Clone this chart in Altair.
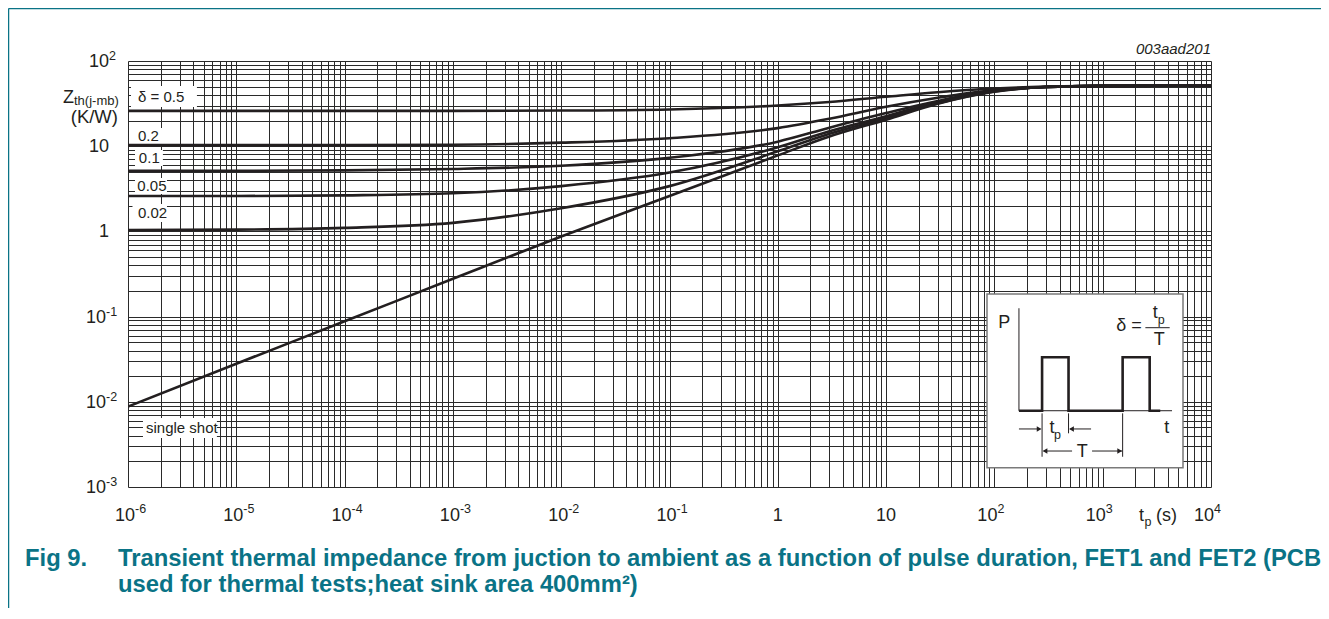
import altair as alt
import pandas as pd

# ---------------- data ----------------
t_points = [1e-6, 1e-5, 1e-4, 1e-3, 1e-2, 1e-1, 1, 3, 10, 30, 100, 300, 1000, 1e4]
z_d050 = [26, 26, 26, 26, 26.2, 27, 30, 33, 38, 43, 47.5, 50, 51, 51.5]
z_d020 = [10.3, 10.3, 10.3, 10.4, 11, 12.4, 16.3, 21, 29, 37, 45.5, 49.5, 51, 51.5]
z_d010 = [5.15, 5.15, 5.2, 5.4, 5.9, 7.3, 11.3, 16.5, 24.5, 34, 45, 49.5, 51, 51.5]
z_d005 = [2.6, 2.6, 2.65, 2.8, 3.4, 4.9, 9.7, 15, 22.5, 33, 44.5, 49.5, 51, 51.5]
z_d002 = [1.04, 1.05, 1.1, 1.26, 1.87, 3.4, 8.7, 14, 21.5, 32, 44, 49.5, 51, 51.5]
z_single = [0.0088, 0.028, 0.088, 0.278, 0.87, 2.6, 7.8, 13, 20.5, 31.5, 43.5, 49.5, 51, 51.5]

series_names = ["0.5", "0.2", "0.1", "0.05", "0.02", "single shot"]
series_values = [z_d050, z_d020, z_d010, z_d005, z_d002, z_single]

# curve labels (data coordinates) and their white boxes
label_text = ["δ = 0.5", "0.2", "0.1", "0.05", "0.02", "single shot"]
label_t = [1.237e-6, 1.237e-6, 1.26e-6, 1.22e-6, 1.237e-6, 1.466e-6]
label_z = [37.8, 13.2, 7.27, 3.41, 1.64, 0.00493]
box_t0 = [1.066e-6, 1.10e-6, 1.16e-6, 1.16e-6, 1.10e-6, 1.375e-6]
box_t1 = [4.33e-6, 2.10e-6, 2.10e-6, 2.29e-6, 2.29e-6, 6.62e-6]
box_z0 = [28.8, 10.6, 5.86, 2.75, 1.29, 0.00376]
box_z1 = [50.9, 16.35, 9.03, 4.24, 2.10, 0.00646]

# tick labels: base and exponent
x_tick_values = [1e-6, 1e-5, 1e-4, 1e-3, 1e-2, 1e-1, 1.0, 10.0, 1e2, 1e3, 1e4]
x_tick_base = ["10", "10", "10", "10", "10", "10", "1", "10", "10", "10", "10"]
x_tick_exp = ["-6", "-5", "-4", "-3", "-2", "-1", "", "", "2", "3", "4"]
y_tick_values = [1e-3, 1e-2, 1e-1, 1.0, 10.0, 1e2]
y_tick_base = ["10", "10", "10", "1", "10", "10"]
y_tick_exp = ["-3", "-2", "-1", "", "", "2"]

# inset diagram (unit box 0..100 x 0..100)
pulse_u = [16.3, 28.1, 28.1, 41.6, 41.6, 69.2, 69.2, 83.0, 83.0, 88.4]
pulse_v = [32.8, 32.8, 63.6, 63.6, 32.8, 32.8, 63.6, 63.6, 32.8, 32.8]
seg_u0 = [16.3, 16.3, 28.1, 41.6, 69.2, 16.3, 53.1, 28.9, 53.6, 80.8]
seg_u1 = [16.3, 94.4, 28.1, 41.6, 69.2, 27.2, 42.5, 43.4, 68.9, 93.2]
seg_v0 = [91.8, 32.8, 31.3, 31.3, 31.3, 22.3, 22.3, 9.6, 9.6, 80.6]
seg_v1 = [32.8, 32.8, 6.3, 19.8, 6.3, 22.3, 22.3, 9.6, 9.6, 80.6]
head_u = [26.6, 43.1, 29.6, 67.7]
head_v = [22.3, 22.3, 9.6, 9.6]
head_shape = ["triangle-right", "triangle-left", "triangle-left", "triangle-right"]
inset_text = ["P", "t", "t", "T", "δ =", "t", "T"]
inset_text_u = [8.8, 91.7, 33.1, 48.6, 72.4, 85.9, 87.9]
inset_text_v = [83.3, 22.9, 22.6, 9.3, 81.3, 89.1, 73.8]
inset_sub = ["p", "p"]
inset_sub_u = [35.9, 88.9]
inset_sub_v = [18.8, 85.0]

caption_fig = "Fig 9."
caption_lines = [
    "Transient thermal impedance from juction to ambient as a function of pulse duration, FET1 and FET2 (PCB",
    "used for thermal tests;heat sink area 400mm²)",
]

# ---------------- build tables ----------------
rows = []
for name, vals in zip(series_names, series_values):
    for t, z in zip(t_points, vals):
        rows.append({"series": name, "t": t, "z": z})
curves_df = pd.DataFrame(rows)
labels_df = pd.DataFrame({"text": label_text, "t": label_t, "z": label_z,
                          "t0": box_t0, "t1": box_t1, "z0": box_z0, "z1": box_z1})
xt = pd.DataFrame({"v": x_tick_values, "base": x_tick_base, "exp": x_tick_exp})
yt = pd.DataFrame({"v": y_tick_values, "base": y_tick_base, "exp": y_tick_exp})

x_grid = [m * 10.0 ** k for k in range(-6, 4) for m in range(1, 10)] + [1e4]
y_grid = [m * 10.0 ** k for k in range(-3, 2) for m in range(1, 10)] + [100.0]

INK = "#231f20"
TEAL = "#0a7386"
FONT = "Liberation Sans"
W, H = 1083, 426
TICK_FS, EXP_FS = 18, 12.5

common_axis = dict(grid=True, ticks=False, domain=False, labels=False, gridColor="#2a2a2a",
                   gridWidth=1, gridOpacity=1, title=None)
x_scale = alt.Scale(type="log", domain=[1e-6, 1e4], nice=False)
y_scale = alt.Scale(type="log", domain=[1e-3, 1e2], nice=False)
x_axis = alt.Axis(values=x_grid, **common_axis)
y_axis = alt.Axis(values=y_grid, **common_axis)


def X(field):
    return alt.X(field, scale=x_scale, axis=x_axis)


def Y(field):
    return alt.Y(field, scale=y_scale, axis=y_axis)


curves = alt.Chart(curves_df).mark_line(color=INK, strokeWidth=2.6, interpolate="monotone", clip=True).encode(
    x=X("t:Q"), y=Y("z:Q"), detail="series:N")
boxes = alt.Chart(labels_df).mark_rect(fill="white").encode(
    x=X("t0:Q"), x2="t1", y=Y("z0:Q"), y2="z1")
label_marks = alt.Chart(labels_df).mark_text(
    align="left", baseline="middle", font=FONT, fontSize=15, color=INK).encode(
    x=X("t:Q"), y=Y("z:Q"), text="text:N")


# ---- tick labels drawn as text (base + raised exponent) ----
def xlab(df, field, align, dx, y, size):
    return alt.Chart(df).mark_text(align=align, dx=dx, baseline="alphabetic", font=FONT,
                                   fontSize=size, color=INK).encode(
        x=X("v:Q"), y=alt.value(y), text=f"{field}:N")


def ylab(df, field, align, x, dy, size):
    return alt.Chart(df).mark_text(align=align, dy=dy, baseline="alphabetic", font=FONT,
                                   fontSize=size, color=INK).encode(
        x=alt.value(x), y=Y("v:Q"), text=f"{field}:N")


xneg = xt[xt["exp"].str.startswith("-")]
xpos = xt[(xt["exp"] != "") & ~xt["exp"].str.startswith("-")]
xpl = xt[xt["exp"] == ""]
yneg = yt[yt["exp"].str.startswith("-")]
ypos = yt[(yt["exp"] != "") & ~yt["exp"].str.startswith("-")]
ypl = yt[yt["exp"] == ""]

XB, XE = H + 34, H + 25.5
ticklabels = [
    xlab(xneg, "base", "right", 7, XB, TICK_FS), xlab(xneg, "exp", "left", 7, XE, EXP_FS),
    xlab(xpos, "base", "right", 3, XB, TICK_FS), xlab(xpos, "exp", "left", 3, XE, EXP_FS),
    xlab(xpl, "base", "center", 0, XB, TICK_FS),
    ylab(yneg, "base", "right", -22, 6, TICK_FS), ylab(yneg, "exp", "left", -22, -1, EXP_FS),
    ylab(ypos, "base", "right", -19, 6, TICK_FS), ylab(ypos, "exp", "left", -19, -1, EXP_FS),
    ylab(ypl, "base", "right", -19, 6, TICK_FS),
]

# decorations: frame lines, axis titles, code, caption
frame_df = pd.DataFrame({"k": [0]})
frame_top = alt.Chart(frame_df).mark_rule(color=TEAL, strokeWidth=1.5).encode(
    x=alt.value(-119.5), x2=alt.value(W + 110), y=alt.value(-52.5))
frame_left = alt.Chart(frame_df).mark_rule(color=TEAL, strokeWidth=1.5).encode(
    x=alt.value(-119.5), y=alt.value(-52.5), y2=alt.value(H + 130))


def txt(s, x, y, size, align="left", color=INK, weight="normal", style="normal"):
    return alt.Chart(pd.DataFrame({"s": [s]})).mark_text(
        align=align, baseline="alphabetic", font=FONT, fontSize=size, color=color,
        fontWeight=weight, fontStyle=style).encode(
        x=alt.value(x), y=alt.value(y), text="s:N")


ytitle = [
    txt("Z", -65, 42, 18),
    txt("th(j-mb)", -54, 44, 13),
    txt("(K/W)", -10, 62, 18.5, align="right"),
]
xtitle = [
    txt("t", 1011, XB, TICK_FS),
    txt("p", 1016.5, XB + 5, 12.5),
    txt("(s)", 1028, XB, TICK_FS),
]
code = txt("003aad201", W, -7, 15, align="right", style="italic")
caption = [
    txt(caption_fig, -103, 505, 23.8, color=TEAL, weight="bold"),
    txt(caption_lines[0], -10, 505, 23.8, color=TEAL, weight="bold"),
    txt(caption_lines[1], -10, 531, 23.8, color=TEAL, weight="bold"),
]

main = alt.layer(boxes, curves, label_marks, *ticklabels, frame_top, frame_left, code,
                 *ytitle, *xtitle, *caption)

# ---------------- inset (own unit scales) ----------------
box_left, box_right, box_top, box_bottom = 859.0, 1055.0, 233.0, 406.7
ppu_x = (box_right - box_left) / 100.0
ppu_y = (box_bottom - box_top) / 100.0
u_dom = [-box_left / ppu_x, (W - box_left) / ppu_x]
v_dom = [-(H - box_bottom) / ppu_y, box_top / ppu_y + 100.0]
u_scale = alt.Scale(domain=u_dom, nice=False, zero=False)
v_scale = alt.Scale(domain=v_dom, nice=False, zero=False)


def U(field):
    return alt.X(field, scale=u_scale, axis=None)


def V(field):
    return alt.Y(field, scale=v_scale, axis=None)


inset_box = alt.Chart(pd.DataFrame({"u0": [0], "u1": [100], "v0": [0], "v1": [100]})).mark_rect(
    fill="white", stroke="#7a7a7a", strokeWidth=1.5).encode(
    x=U("u0:Q"), x2="u1", y=V("v0:Q"), y2="v1")
segs = alt.Chart(pd.DataFrame({"u0": seg_u0, "u1": seg_u1, "v0": seg_v0, "v1": seg_v1})).mark_rule(
    color=INK, strokeWidth=1).encode(
    x=U("u0:Q"), x2="u1", y=V("v0:Q"), y2="v1")
pulse = alt.Chart(pd.DataFrame({"u": pulse_u, "v": pulse_v, "i": list(range(len(pulse_u)))})).mark_line(
    color=INK, strokeWidth=2.6, strokeJoin="miter").encode(
    x=U("u:Q"), y=V("v:Q"), order="i:Q")
heads = alt.Chart(pd.DataFrame({"u": head_u, "v": head_v, "shape": head_shape})).mark_point(
    filled=True, color=INK, size=30, opacity=1).encode(
    x=U("u:Q"), y=V("v:Q"), shape=alt.Shape("shape:N", scale=None, legend=None))
itext = alt.Chart(pd.DataFrame({"s": inset_text, "u": inset_text_u, "v": inset_text_v})).mark_text(
    font=FONT, fontSize=18, color=INK, baseline="middle", align="center").encode(
    x=U("u:Q"), y=V("v:Q"), text="s:N")
isub = alt.Chart(pd.DataFrame({"s": inset_sub, "u": inset_sub_u, "v": inset_sub_v})).mark_text(
    font=FONT, fontSize=12.5, color=INK, baseline="middle", align="center").encode(
    x=U("u:Q"), y=V("v:Q"), text="s:N")

inset = alt.layer(inset_box, segs, pulse, heads, itext, isub)

chart = alt.layer(main, inset).resolve_scale(x="independent", y="independent").properties(
    width=W, height=H,
    autosize=alt.AutoSizeParams(type="none"),
    padding={"left": 120, "top": 53, "right": 110, "bottom": 121},
    background="white",
).configure_view(stroke=None)

chart.save("out.html", embed_options={"renderer": "svg", "actions": False})
